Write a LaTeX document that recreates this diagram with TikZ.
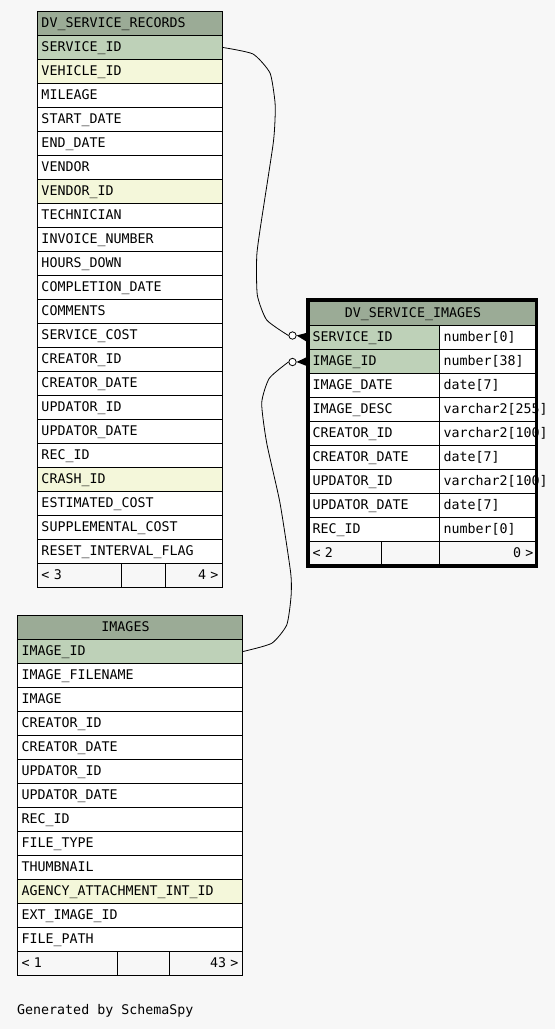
\documentclass[tikz,border=0pt]{standalone}
\usepackage{fontspec}
\setmainfont{DejaVu Sans Mono}
\usetikzlibrary{calc}
\definecolor{bgc}{HTML}{F7F7F7}
\definecolor{hdc}{HTML}{9BAB96}
\definecolor{pkc}{HTML}{BED1B8}
\definecolor{fkc}{HTML}{F4F7DA}
\tikzset{
  cell/.style={draw=black, line width=1pt, anchor=north west, minimum height=24pt,
    inner xsep=4pt, inner ysep=0pt, align=left, text height=11pt, text depth=3pt,
    font=\fontsize{13.3}{16}\selectfont},
  pk/.style={fill=pkc}, fk/.style={fill=fkc}, nn/.style={fill=white},
  hd/.style={fill=hdc}, ft/.style={fill=bgc},
  lbl/.style={inner sep=0pt, text height=11pt, text depth=3pt, font=\fontsize{13.3}{16}\selectfont},
  conn/.style={line width=0.8pt, black},
  odot/.style={circle, draw=black, fill=white, line width=0.8pt, minimum size=7.4pt, inner sep=0pt}
}
\begin{document}
\begin{tikzpicture}[x=1pt,y=-1pt]
\fill[bgc] (0,0) rectangle (555,1029);
\useasboundingbox (0,0) rectangle (555,1029);
% ---------- DV_SERVICE_RECORDS ----------
\node[cell,hd,minimum width=185pt,text width=177pt] (t1-h) at (37,11) {DV\_SERVICE\_RECORDS};
\foreach \n/\s [count=\i] in {SERVICE\_ID/pk,VEHICLE\_ID/fk,MILEAGE/nn,START\_DATE/nn,END\_DATE/nn,VENDOR/nn,VENDOR\_ID/fk,TECHNICIAN/nn,INVOICE\_NUMBER/nn,HOURS\_DOWN/nn,COMPLETION\_DATE/nn,COMMENTS/nn,SERVICE\_COST/nn,CREATOR\_ID/nn,CREATOR\_DATE/nn,UPDATOR\_ID/nn,UPDATOR\_DATE/nn,REC\_ID/nn,CRASH\_ID/fk,ESTIMATED\_COST/nn,SUPPLEMENTAL\_COST/nn,RESET\_INTERVAL\_FLAG/nn}
  \node[cell,\s,minimum width=185pt,text width=177pt] (t1-\i) at (37,{35+24*(\i-1)}) {\n};
\node[cell,ft,minimum width=84pt,text width=76pt] (t1-fa) at (37,563) {<\ 3};
\node[cell,ft,minimum width=44pt,text width=36pt] (t1-fb) at (121,563) {};
\node[cell,ft,minimum width=57pt,text width=49pt,align=right] (t1-fc) at (165,563) {4 >};
% ---------- DV_SERVICE_IMAGES ----------
\node[cell,hd,minimum width=229pt,text width=221pt] (t2-h) at (308,301) {};
\node[lbl] (t2-ht) at (413,313) {DV\_SERVICE\_IMAGES};
\foreach \n/\t/\s [count=\i] in {SERVICE\_ID/number[0]/pk,IMAGE\_ID/number[38]/pk,IMAGE\_DATE/date[7]/nn,IMAGE\_DESC/varchar2[255]/nn,CREATOR\_ID/varchar2[100]/nn,CREATOR\_DATE/date[7]/nn,UPDATOR\_ID/varchar2[100]/nn,UPDATOR\_DATE/date[7]/nn,REC\_ID/number[0]/nn}
{
  \node[cell,\s,minimum width=131pt,text width=123pt] (t2-\i) at (308,{325+24*(\i-1)}) {\n};
  \node[cell,nn,minimum width=98pt,text width=90pt] (t2-\i t) at (439,{325+24*(\i-1)}) {\t};
}
\node[cell,ft,minimum width=73pt,text width=65pt] (t2-fa) at (308,541) {<\ 2};
\node[cell,ft,minimum width=58pt,text width=50pt] (t2-fb) at (381,541) {};
\node[cell,ft,minimum width=98pt,text width=90pt,align=right] (t2-fc) at (439,541) {0 >};
% ---------- IMAGES ----------
\node[cell,hd,minimum width=225pt,text width=217pt] (t3-h) at (17,615) {};
\node[lbl] (t3-ht) at (125.5,627) {IMAGES};
\foreach \n/\s [count=\i] in {IMAGE\_ID/pk,IMAGE\_FILENAME/nn,IMAGE/nn,CREATOR\_ID/nn,CREATOR\_DATE/nn,UPDATOR\_ID/nn,UPDATOR\_DATE/nn,REC\_ID/nn,FILE\_TYPE/nn,THUMBNAIL/nn,AGENCY\_ATTACHMENT\_INT\_ID/fk,EXT\_IMAGE\_ID/nn,FILE\_PATH/nn}
  \node[cell,\s,minimum width=225pt,text width=217pt] (t3-\i) at (17,{639+24*(\i-1)}) {\n};
\node[cell,ft,minimum width=100pt,text width=92pt] (t3-fa) at (17,951) {<\ 1};
\node[cell,ft,minimum width=52pt,text width=44pt] (t3-fb) at (117,951) {};
\node[cell,ft,minimum width=73pt,text width=65pt,align=right] (t3-fc) at (169,951) {43 >};
% ---------- footer text ----------
\node[lbl,anchor=west] (gen) at (17,1010) {Generated by SchemaSpy};
% ---------- connectors ----------
\node[odot] (c1) at (292.5,335.5) {};
\node[odot] (c2) at (292.5,362) {};
\draw[conn] plot[smooth,tension=0.35] coordinates {(t1-1.east) (253,54) (270,73) (275,102) (275,120) (273,145) (260,230) (256.7,257) (257.3,295) (266.7,320) (c1.west)};
\draw[conn] plot[smooth,tension=0.35] coordinates {(t3-1.east) (271.7,643.3) (286.7,625) (291,597) (290.7,573) (280,503) (266.7,443) (261.7,403) (269.3,378.3) (c2.west)};
\fill[black] (c1.east) -- ($(t2-1.west)+(0,-5)$) -- ($(t2-1.west)+(0,5)$) -- cycle;
\fill[black] (c2.east) -- ($(t2-2.west)+(0,-5)$) -- ($(t2-2.west)+(0,5)$) -- cycle;
\draw[line width=3.6pt] (308,300) rectangle (536.5,566);
\end{tikzpicture}
\end{document}
